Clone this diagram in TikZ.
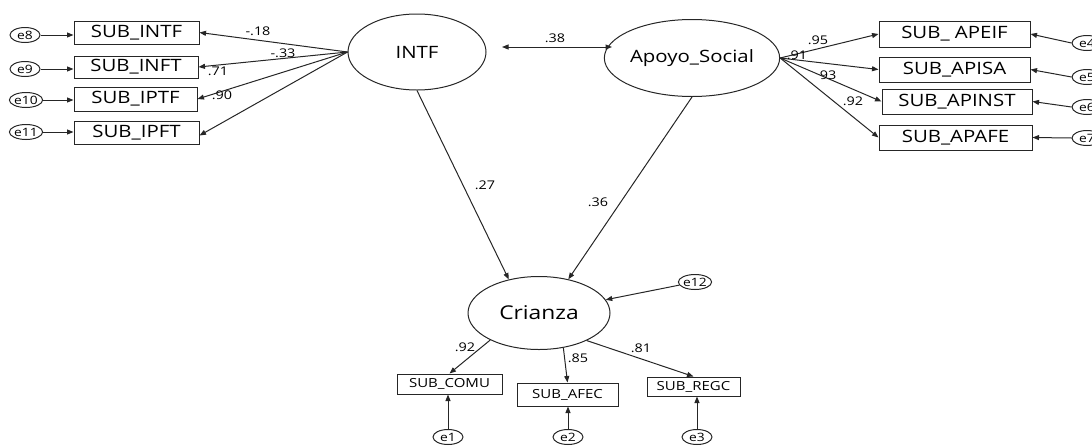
\documentclass[tikz,border=0pt]{standalone}
\usepackage{fontspec}
\setmainfont{Open Sans}[FakeStretch=1.2]
\usetikzlibrary{shapes.geometric,arrows.meta}
\begin{document}
\begin{tikzpicture}[x=1pt,y=-1pt,
  lw/.style={line width=1pt,draw=black!85},
  obs/.style={draw,lw,rectangle,inner sep=0pt,font=\fontsize{17}{17}\selectfont},
  sobs/.style={draw,lw,rectangle,inner sep=0pt,font=\fontsize{12.5}{12.5}\selectfont},
  lat/.style={draw,lw,ellipse,inner sep=0pt,font=\fontsize{17}{17}\selectfont},
  err/.style={draw,lw,ellipse,inner sep=0pt,minimum width=30pt,minimum height=15pt,font=\fontsize{11.5}{11.5}\selectfont},
  arr/.style={lw,-{Triangle[length=6.5pt,width=5pt]}},
  darr/.style={lw,{Triangle[length=6.5pt,width=5pt]}-{Triangle[length=6.5pt,width=5pt]}},
  lab/.style={font=\fontsize{12}{12}\selectfont,inner sep=0pt}]
\useasboundingbox (0,0) rectangle (1092,445);
% latent variables
\node[lat,minimum width=138pt,minimum height=76pt] (INTF) at (417,52) {INTF};
\node[lat,minimum width=141pt,minimum height=77pt] (APS) at (692,58) {Apoyo\_Social};
\node[lat,minimum width=142pt,minimum height=73pt,font=\fontsize{19}{19}\selectfont] (CRI) at (539,313) {Crianza};
% left indicators
\node[obs,minimum width=125pt,minimum height=23pt] (b1) at (136.5,32.5) {SUB\_INTF};
\node[obs,minimum width=124pt,minimum height=22pt] (b2) at (136,67) {SUB\_INFT};
\node[obs,minimum width=123pt,minimum height=24pt] (b3) at (135.5,99) {SUB\_IPTF};
\node[obs,minimum width=125pt,minimum height=23pt] (b4) at (136.5,132.5) {SUB\_IPFT};
\node[err] (e8) at (25,35) {e8};
\node[err] (e9) at (25,69) {e9};
\node[err] (e10) at (26,100) {e10};
\node[err] (e11) at (26,132) {e11};
% right indicators
\node[obs,minimum width=151pt,minimum height=26pt] (r1) at (954.5,34) {SUB\_ APEIF};
\node[obs,minimum width=151pt,minimum height=25pt] (r2) at (954.5,69.5) {SUB\_APISA};
\node[obs,minimum width=150pt,minimum height=25pt] (r3) at (957,101.5) {SUB\_APINST};
\node[obs,minimum width=153pt,minimum height=25pt] (r4) at (955.5,137.5) {SUB\_APAFE};
\node[err] (e4) at (1087,43) {e4};
\node[err] (e5) at (1087,77) {e5};
\node[err] (e6) at (1087,107) {e6};
\node[err] (e7) at (1087,138) {e7};
% bottom indicators
\node[sobs,minimum width=105pt,minimum height=20pt] (c1) at (449.5,384) {SUB\_COMU};
\node[sobs,minimum width=101pt,minimum height=23pt] (c2) at (567.5,394.5) {SUB\_AFEC};
\node[sobs,minimum width=93pt,minimum height=19pt] (c3) at (693.5,386.5) {SUB\_REGC};
\node[err] (e1) at (448,437) {e1};
\node[err] (e2) at (568,437) {e2};
\node[err] (e3) at (697,437) {e3};
\node[err] (e12) at (695,282) {e12};
% error arrows
\draw[arr] (e8) -- (b1.west |- e8);
\draw[arr] (e9) -- (b2.west |- e9);
\draw[arr] (e10) -- (b3.west |- e10);
\draw[arr] (e11) -- (b4.west |- e11);
\draw[arr] (e4.west) -- (r1.east);
\draw[arr] (e5.west) -- (r2.east);
\draw[arr] (e6.west) -- (r3.east);
\draw[arr] (e7.west) -- (r4.east);
\draw[arr] (e1) -- (e1 |- c1.south);
\draw[arr] (e2) -- (e2 |- c2.south);
\draw[arr] (e3) -- (e3 |- c3.south);
\draw[arr] (e12) -- (CRI);
% loadings
\draw[arr] (INTF.west) -- (b1.east);
\draw[arr] (INTF.west) -- (b2.east);
\draw[arr] (INTF.west) -- (b3.east);
\draw[arr] (INTF.west) -- ([yshift=-3pt]b4.east);
\draw[arr] (APS.east) -- (r1.west);
\draw[arr] (APS.east) -- (r2.west);
\draw[arr] (APS.east) -- (r3.west);
\draw[arr] (APS.east) -- (r4.west);
\draw[arr] (CRI.209) -- (c1.north);
\draw[arr] (CRI.-55) -- (c2.north);
\draw[arr] (CRI.-30) -- (c3.north);
% structural
\draw[arr] (INTF.south) -- (CRI.132);
\draw[arr] (APS.south) -- (CRI.49);
\coordinate (d1) at (502,47);
\coordinate (d2) at (612,47);
\draw[darr] (d1) -- (d2);
% labels
\node[lab] (l18) at (258,31) {-.18};
\node[lab] (l33) at (283,53) {-.33};
\node[lab] (l71) at (218,71) {.71};
\node[lab] (l90) at (222,95) {.90};
\node[lab] (l38) at (555,38) {.38};
\node[lab] (l95) at (818,40) {.95};
\node[lab] (l91) at (797,55) {.91};
\node[lab] (l93) at (828,75) {93};
\node[lab] (l92r) at (853,101) {.92};
\node[lab] (l27) at (485,185) {.27};
\node[lab] (l36) at (598,202) {.36};
\node[lab] (l92b) at (465,347) {.92};
\node[lab] (l85) at (578,358) {.85};
\node[lab] (l81) at (641,348) {.81};
\end{tikzpicture}
\end{document}
